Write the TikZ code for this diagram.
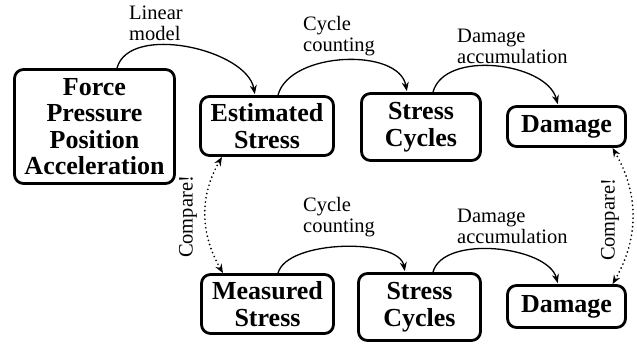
\documentclass[tikz,border=0pt]{standalone}
\usepackage{fontspec}
\setmainfont{Liberation Serif}
\usetikzlibrary{arrows.meta}
\begin{document}
\begin{tikzpicture}[x=1pt,y=1pt,
  box/.style={draw,line width=2.8pt,rounded corners=9pt,align=center,inner sep=0pt,
    font=\fontsize{26}{26.5}\selectfont\bfseries},
  lbl/.style={align=left,anchor=base west,inner sep=0pt,font=\fontsize{20.5}{21}\selectfont},
  cmplbl/.style={rotate=90,inner sep=0pt,font=\fontsize{20.5}{21}\selectfont},
  flow/.style={line width=1.3pt,-{Stealth[length=9pt,width=7pt]},shorten >=1pt},
  cmp/.style={line width=1.9pt,dash pattern=on 0pt off 4.3pt,line cap=round,
    {Stealth[length=9pt,width=7pt]}-{Stealth[length=9pt,width=7pt]}}
]
\useasboundingbox (0,0) rectangle (637,-343);
% boxes
\node[box,minimum width=160pt,minimum height=114pt] (force) at (94.5,-126.5) {Force\\Pressure\\Position\\Acceleration};
\node[box,minimum width=133pt,minimum height=59pt] (es) at (267,-126) {Estimated\\Stress};
\node[box,minimum width=119pt,minimum height=67pt] (sc1) at (421,-127) {Stress\\Cycles};
\node[box,minimum width=118pt,minimum height=40pt] (d1) at (566.5,-126.5) {Damage};
\node[box,minimum width=132pt,minimum height=59pt] (ms) at (267.5,-304) {Measured\\Stress};
\node[box,minimum width=122pt,minimum height=67pt] (sc2) at (419.5,-307) {Stress\\Cycles};
\node[box,minimum width=118pt,minimum height=42pt] (d2) at (566.5,-306.5) {Damage};
% labels (anchored at the baseline of the last line)
\node[lbl] (l1) at (129,-40.7) {Linear\\model};
\node[lbl] (l2) at (303,-51.7) {Cycle\\counting};
\node[lbl] (l3) at (457,-63.3) {Damage\\accumulation};
\node[lbl] (l4) at (303,-232.5) {Cycle\\counting};
\node[lbl] (l5) at (457,-243) {Damage\\accumulation};
\node[cmplbl] (c1) at (188,-217) {Compare!};
\node[cmplbl] (c2) at (610,-220) {Compare!};
% flow arrows
\draw[flow] ([xshift=22.5pt]force.north) to[out=75,in=100,looseness=0.85] ([xshift=-12pt]es.north);
\draw[flow] ([xshift=11pt]es.north) to[out=75,in=100,looseness=0.9] ([xshift=-14pt]sc1.north);
\draw[flow] ([xshift=12pt]sc1.north) to[out=75,in=105,looseness=0.9] ([xshift=-8.5pt]d1.north);
\draw[flow] ([xshift=10.5pt]ms.north) to[out=75,in=100,looseness=0.7] ([xshift=-14.5pt]sc2.north);
\draw[flow] ([xshift=13.5pt]sc2.north) to[out=75,in=105,looseness=0.8] ([xshift=-8.5pt]d2.north);
% compare arrows
\draw[cmp] ([xshift=-45pt]es.south) to[out=-120,in=120] ([xshift=-44.5pt]ms.north);
\draw[cmp] ([xshift=46pt]d1.south) to[out=-60,in=60] ([xshift=46pt]d2.north);
\end{tikzpicture}
\end{document}
